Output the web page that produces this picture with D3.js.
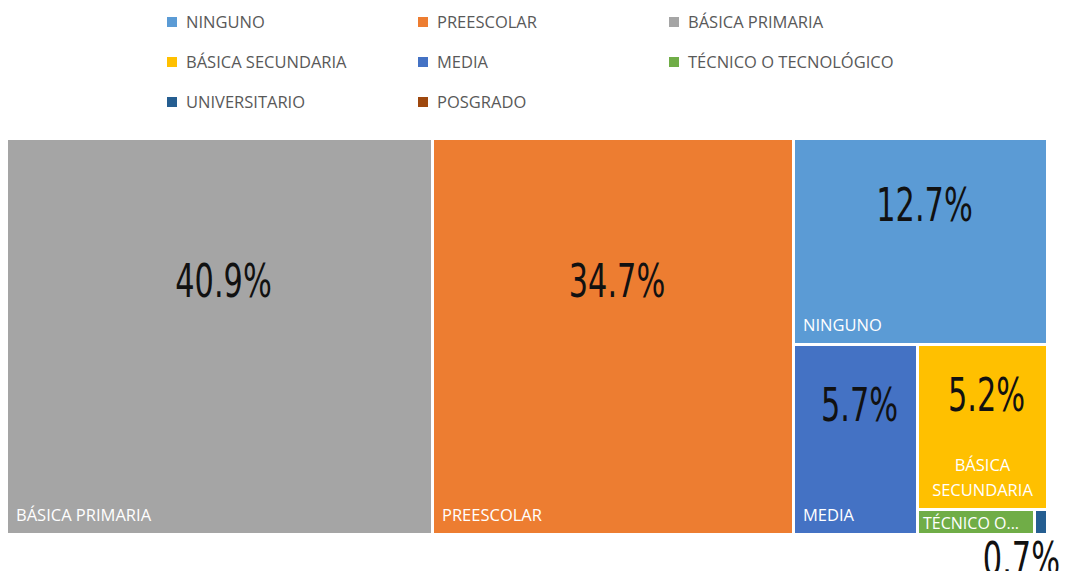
<!DOCTYPE html>
<html lang="es">
<head>
    <meta charset="UTF-8">
    <title>Treemap nivel educativo</title>
    <script src="https://cdn.jsdelivr.net/npm/d3@7"></script>
    <style>
        body { margin: 0; background: #fff; }
        .legend text {
            font-family: "Open Sans", sans-serif;
            font-size: 16.5px;
            fill: #595959;
        }
        .cat {
            font-family: "Open Sans", sans-serif;
            font-size: 16.5px;
            fill: #fff;
        }
        .val {
            font-family: "DejaVu Sans", sans-serif;
            font-size: 46px;
            fill: #111;
        }
    </style>
</head>
<body>
<script>
    var width = 1067, height = 571;

    // datos
    var categories = ["NINGUNO", "PREESCOLAR", "BÁSICA PRIMARIA", "BÁSICA SECUNDARIA",
        "MEDIA", "TÉCNICO O TECNOLÓGICO", "UNIVERSITARIO", "POSGRADO"];
    var values = [12.7, 34.7, 40.9, 5.2, 5.7, 0.7, 0.08, 0];
    var valueLabels = ["12.7%", "34.7%", "40.9%", "5.2%", "5.7%", "0.7%", "", ""];
    var tileLabels = [["NINGUNO"], ["PREESCOLAR"], ["BÁSICA PRIMARIA"], ["BÁSICA", "SECUNDARIA"],
        ["MEDIA"], ["TÉCNICO O..."], [""], [""]];
    var colors = ["#5B9BD5", "#ED7D31", "#A5A5A5", "#FFC000", "#4472C4", "#70AD47", "#255E91", "#9E480E"];

    var svg = d3.select("body").append("svg")
        .attr("width", width)
        .attr("height", height);

    var color = d3.scaleOrdinal().domain(categories).range(colors);

    // leyenda
    var legendX = d3.scalePoint().domain([0, 1, 2]).range([167, 669]);
    var legendY = d3.scalePoint().domain([0, 1, 2]).range([22, 102]);
    var legend = svg.append("g").attr("class", "legend")
        .selectAll("g")
        .data(categories)
        .enter().append("g")
        .attr("transform", function (d, i) {
            return "translate(" + legendX(i % 3) + "," + legendY(Math.floor(i / 3)) + ")";
        });
    legend.append("rect")
        .attr("x", 0).attr("y", -5)
        .attr("width", 10).attr("height", 10)
        .attr("fill", function (d) { return color(d); });
    legend.append("text")
        .attr("x", 19).attr("y", 6)
        .text(function (d) { return d; });

    // treemap
    var box = {left: 8, top: 140, right: 1046, bottom: 533};
    var rows = categories.map(function (c, i) {
        return {name: c, value: values[i], label: valueLabels[i], lines: tileLabels[i]};
    });
    var root = d3.hierarchy({children: rows})
        .sum(function (d) { return d.value || 0; })
        .sort(function (a, b) { return b.value - a.value; });

    d3.treemap()
        .tile(d3.treemapSquarify.ratio(1))
        .size([box.right - box.left, box.bottom - box.top])
        .paddingInner(3)
        .round(true)(root);

    var g = svg.append("g")
        .attr("transform", "translate(" + box.left + "," + box.top + ")");

    var leaves = root.leaves().filter(function (d) { return d.value > 0; });

    var cell = g.selectAll(".cell")
        .data(leaves)
        .enter().append("g")
        .attr("class", "cell")
        .attr("transform", function (d) { return "translate(" + d.x0 + "," + d.y0 + ")"; });

    cell.append("rect")
        .attr("width", function (d) { return d.x1 - d.x0; })
        .attr("height", function (d) { return d.y1 - d.y0; })
        .attr("fill", function (d) { return color(d.data.name); });

    // nombre de la categoria abajo a la izquierda
    cell.each(function (d) {
        var w = d.x1 - d.x0, h = d.y1 - d.y0;
        var lines = d.data.lines;
        if (!lines[0]) return;
        var t = d3.select(this).append("text").attr("class", "cat");
        if (lines.length > 1) {
            t.attr("text-anchor", "middle");
            lines.forEach(function (l, i) {
                t.append("tspan")
                    .attr("x", w / 2)
                    .attr("y", h - 12 - (lines.length - 1 - i) * 25)
                    .text(l);
            });
        } else if (h < 30) {
            t.attr("x", 4).attr("y", h - 4).style("font-size", "16px").text(lines[0]);
        } else {
            t.attr("x", 8).attr("y", h - 12).text(lines[0]);
        }
    });

    // porcentajes (fuente estrecha)
    function valText(sel) {
        sel.attr("class", "val")
            .attr("transform", "scale(0.66,1)")
            .text(function (d) { return d.data.label; });
    }
    cell.filter(function (d) { return d.y1 - d.y0 > 60; })
        .append("g")
        .attr("transform", function (d) {
            return "translate(" + ((d.x1 - d.x0) / 2 + 4) + "," + ((d.y1 - d.y0) * 0.4) + ")";
        })
        .append("text")
        .attr("text-anchor", "middle")
        .call(valText);

    // etiqueta del tecnico fuera de la celda
    var small = leaves.filter(function (d) { return d.y1 - d.y0 <= 60 && d.data.label; });
    g.selectAll(".valOut")
        .data(small)
        .enter().append("g")
        .attr("transform", function (d) {
            return "translate(" + (box.right - box.left + 14) + "," + (d.y1 + 42) + ")";
        })
        .append("text")
        .attr("text-anchor", "end")
        .call(valText);
</script>
</body>
</html>
